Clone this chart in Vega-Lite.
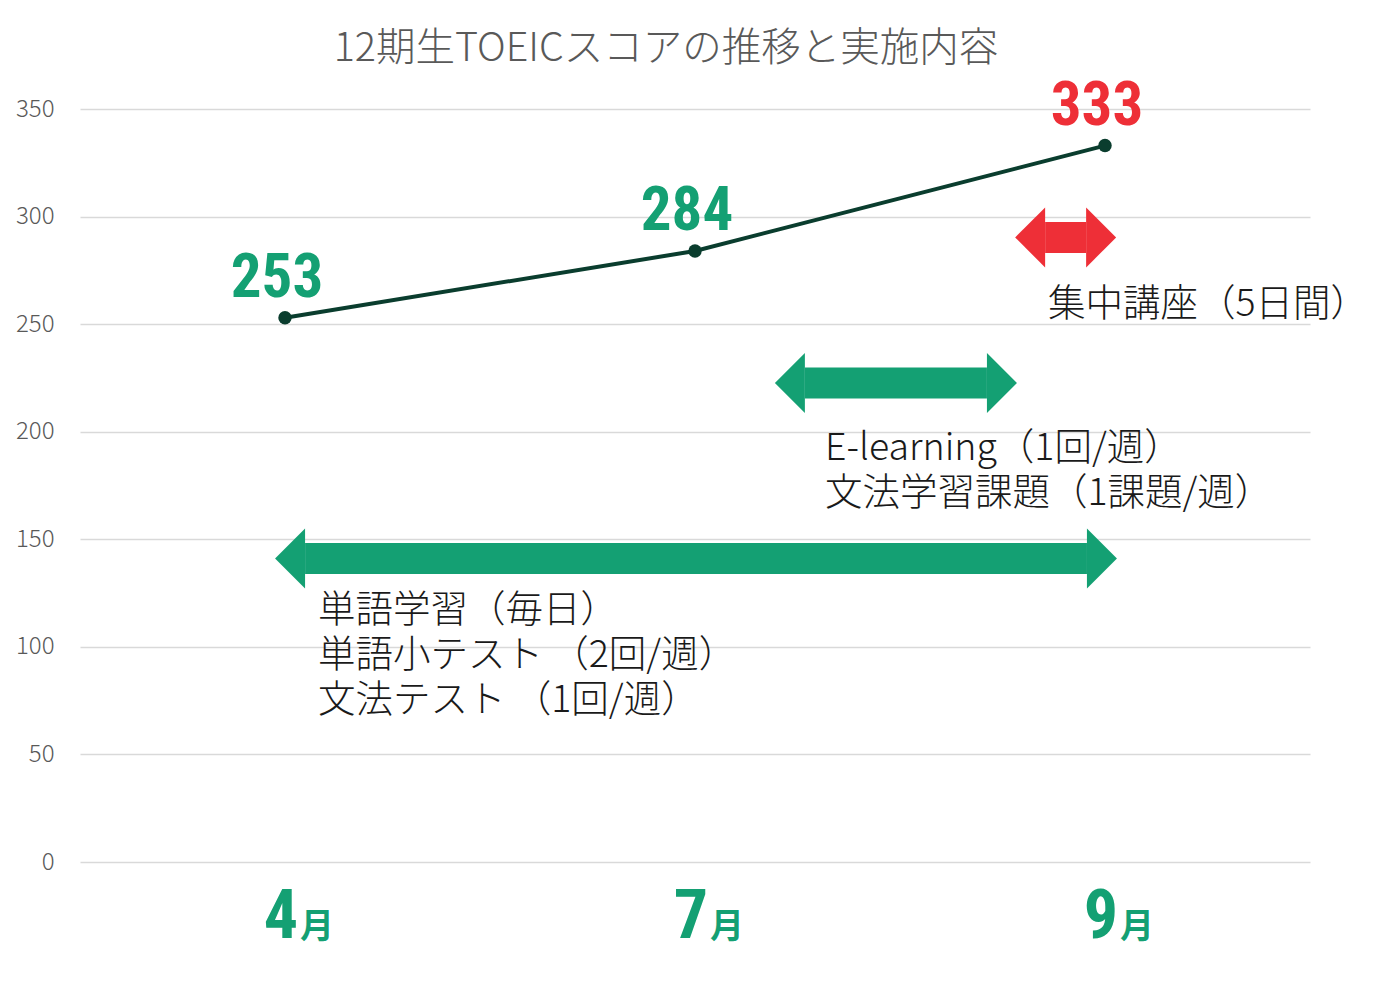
{
  "$schema": "https://vega.github.io/schema/vega-lite/v6.json",
  "width": 1230,
  "height": 753,
  "autosize": {"type": "none"},
  "padding": {"left": 80, "top": 109, "right": 85, "bottom": 127},
  "background": "white",
  "title": {
    "text": "12期生TOEICスコアの推移と実施内容",
    "font": "Noto Sans CJK JP",
    "fontSize": 39.5,
    "fontWeight": 300,
    "color": "#595959",
    "anchor": "middle",
    "dx": -29,
    "baseline": "alphabetic",
    "offset": -25
  },
  "config": {
    "view": {"stroke": null},
    "axisY": {
      "grid": true,
      "gridColor": "#d9d9d9",
      "gridWidth": 1.5,
      "domain": false,
      "ticks": false,
      "tickSize": 0,
      "labelFont": "Noto Sans CJK JP",
      "labelFontWeight": 300,
      "labelFontSize": 24,
      "labelColor": "#595959",
      "labelPadding": 26
    }
  },
  "datasets": {
    "scores": [
      {"month": "4月", "score": 253},
      {"month": "7月", "score": 284},
      {"month": "9月", "score": 333}
    ],
    "arrows": [
      {"activity": "単語学習", "start": 0.049, "end": 1.956, "level": 141.1, "type": "通常"},
      {"activity": "E-learning", "start": 1.268, "end": 1.712, "level": 222.6, "type": "通常"},
      {"activity": "集中講座", "start": 1.854, "end": 1.954, "level": 290.3, "type": "集中"}
    ],
    "notes": [
      {"note": "集中講座（5日間）", "pos": 1.861, "level": 253.8},
      {"note": "E-learning（1回/週）\n文法学習課題（1課題/週）", "pos": 1.317, "level": 186.9},
      {"note": "単語学習（毎日）\n単語小テスト （2回/週）\n文法テスト （1回/週）", "pos": 0.0805, "level": 111.6}
    ]
  },
  "layer": [
    {
      "data": {"name": "scores"},
      "resolve": {"axis": {"x": "independent"}},
      "layer": [
        {
          "mark": {"type": "line", "color": "#0a3d2e", "strokeWidth": 4},
          "encoding": {
            "x": {
              "field": "month", "type": "ordinal", "sort": null,
              "scale": {"type": "band", "paddingInner": 0, "paddingOuter": 0},
              "axis": {
                "orient": "bottom",
                "title": null,
                "grid": false,
                "domain": false,
                "ticks": false,
                "tickSize": 0,
                "labelAngle": 0,
                "labelExpr": "substring(datum.label, 0, length(datum.label) - 1)",
                "labelFont": "Roboto Condensed",
                "labelFontWeight": "bold",
                "labelFontSize": 68,
                "labelColor": "#14a073",
                "labelAlign": "right",
                "labelBaseline": "alphabetic",
                "labelOffset": 13,
                "labelPadding": 75
              }
            },
            "y": {"field": "score", "type": "quantitative", "title": null,
                  "scale": {"domain": [0, 350], "nice": false, "zero": true},
                  "axis": {"values": [0, 50, 100, 150, 200, 250, 300, 350]}}
          }
        },
        {
          "mark": {"type": "point", "filled": true, "color": "#0a3d2e", "size": 180, "opacity": 1},
          "encoding": {
            "x": {
              "field": "month", "type": "ordinal", "sort": null,
              "axis": {
                "orient": "bottom",
                "title": null,
                "grid": false,
                "domain": false,
                "ticks": false,
                "tickSize": 0,
                "labelAngle": 0,
                "labelExpr": "substring(datum.label, length(datum.label) - 1)",
                "labelFont": "Noto Sans CJK JP",
                "labelFontWeight": "bold",
                "labelFontSize": 34,
                "labelColor": "#14a073",
                "labelAlign": "left",
                "labelBaseline": "alphabetic",
                "labelOffset": 15,
                "labelPadding": 75
              }
            },
            "y": {"field": "score", "type": "quantitative", "title": null,
                  "axis": {"values": [0, 50, 100, 150, 200, 250, 300, 350]}}
          }
        },
        {
          "mark": {"type": "text", "font": "Roboto Condensed", "fontWeight": "bold", "fontSize": 61,
                   "dx": -8, "dy": -21, "baseline": "alphabetic", "align": "center"},
          "encoding": {
            "x": {"field": "month", "type": "ordinal", "sort": null, "axis": null},
            "y": {"field": "score", "type": "quantitative", "title": null,
                  "axis": {"values": [0, 50, 100, 150, 200, 250, 300, 350]}},
            "text": {"field": "score", "type": "quantitative"},
            "color": {
              "condition": {"test": "datum.month === '9月'", "value": "#ee2f37"},
              "value": "#14a073"
            }
          }
        }
      ]
    },
    {
      "layer": [
        {
          "data": {"name": "arrows"},
          "mark": {"type": "rule", "strokeWidth": 31, "strokeCap": "butt"},
          "encoding": {
            "x": {"field": "start", "type": "quantitative", "axis": null,
                  "scale": {"domain": [-0.5, 2.5], "nice": false, "zero": false}},
            "x2": {"field": "end"},
            "y": {"field": "level", "type": "quantitative", "title": null,
                  "axis": {"values": [0, 50, 100, 150, 200, 250, 300, 350]}},
            "color": {"field": "type", "type": "nominal",
                      "scale": {"domain": ["通常", "集中"], "range": ["#14a073", "#ee2f37"]}, "legend": null}
          }
        },
        {
          "data": {"name": "arrows"},
          "mark": {"type": "point", "shape": "M0,-1L-1,0L0,1Z", "size": 3600, "filled": true, "opacity": 1, "strokeWidth": 0},
          "encoding": {
            "x": {"field": "start", "type": "quantitative", "axis": null},
            "y": {"field": "level", "type": "quantitative", "title": null,
                  "axis": {"values": [0, 50, 100, 150, 200, 250, 300, 350]}},
            "color": {"field": "type", "type": "nominal", "legend": null}
          }
        },
        {
          "data": {"name": "arrows"},
          "mark": {"type": "point", "shape": "M0,-1L1,0L0,1Z", "size": 3600, "filled": true, "opacity": 1, "strokeWidth": 0},
          "encoding": {
            "x": {"field": "end", "type": "quantitative", "axis": null},
            "y": {"field": "level", "type": "quantitative", "title": null,
                  "axis": {"values": [0, 50, 100, 150, 200, 250, 300, 350]}},
            "color": {"field": "type", "type": "nominal", "legend": null}
          }
        },
        {
          "data": {"name": "notes"},
          "mark": {"type": "text", "font": "Noto Sans CJK JP", "fontSize": 37.5, "fontWeight": 300,
                   "color": "#1a1a1a", "align": "left", "baseline": "alphabetic", "lineBreak": "\n", "lineHeight": 45},
          "encoding": {
            "x": {"field": "pos", "type": "quantitative", "axis": null},
            "y": {"field": "level", "type": "quantitative", "title": null,
                  "axis": {"values": [0, 50, 100, 150, 200, 250, 300, 350]}},
            "text": {"field": "note", "type": "nominal"}
          }
        }
      ]
    }
  ],
  "resolve": {"scale": {"x": "independent"}}
}
